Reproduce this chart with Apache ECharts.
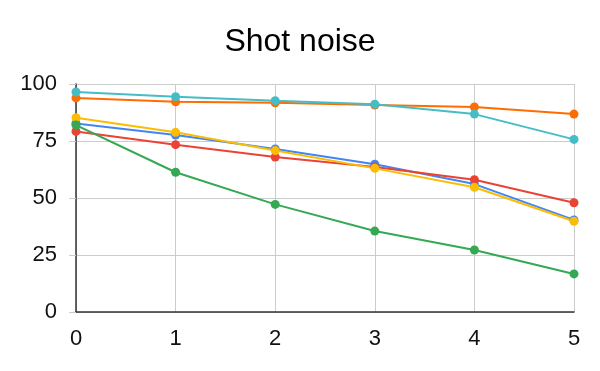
<!DOCTYPE html>
<html>
<head>
<meta charset="utf-8">
<script src="https://cdn.jsdelivr.net/npm/echarts@6/dist/echarts.min.js"></script>
<style>
  html, body { margin: 0; padding: 0; background: #fff; }
  #chart { width: 600px; height: 371px; }
</style>
</head>
<body>
<div id="chart"></div>
<script>
const xValues = [0, 1, 2, 3, 4, 5];
const seriesNames = ["A", "B", "C", "D", "E", "F"];
const blueData = [82.7, 77.6, 71.5, 64.8, 56.1, 40.4];
const redData = [79.2, 73.4, 68.0, 63.6, 58.0, 47.9];
const yellowData = [85.2, 78.8, 70.8, 63.0, 54.7, 39.8];
const greenData = [82.0, 61.3, 47.2, 35.5, 27.2, 16.7];
const orangeData = [93.9, 92.2, 91.8, 90.8, 89.9, 86.8];
const tealData = [96.5, 94.4, 92.7, 91.1, 86.8, 75.7];
const colors = ["#4285F4", "#EA4335", "#FBBC04", "#34A853", "#FF6D01", "#46BDC6"];

const chart = echarts.init(document.getElementById("chart"));
const allData = [blueData, redData, yellowData, greenData, orangeData, tealData];
const font = "'Liberation Sans', Arial, sans-serif";

const option = {
  animation: false,
  title: {
    text: "Shot noise",
    left: "center",
    top: 21,
    textStyle: { fontFamily: font, fontSize: 32, fontWeight: "normal", color: "#000" }
  },
  grid: { left: 76, right: 26, top: 84, bottom: 59 },
  xAxis: {
    type: "value",
    min: 0,
    max: 5,
    interval: 1,
    axisLine: { show: true, lineStyle: { color: "#333", width: 1.5 } },
    axisTick: { show: false },
    axisLabel: { fontFamily: font, fontSize: 22, color: "#111", margin: 16 },
    splitLine: { show: true, lineStyle: { color: "#ccc" } }
  },
  yAxis: {
    type: "value",
    min: 0,
    max: 100,
    interval: 25,
    axisLine: { show: true, lineStyle: { color: "#333", width: 1.5 } },
    axisTick: { show: true, length: 7, lineStyle: { color: "#ccc" } },
    axisLabel: { fontFamily: font, fontSize: 22, color: "#111", margin: 19 },
    splitLine: { show: true, lineStyle: { color: "#ccc" } }
  },
  series: allData.map((d, i) => ({
    name: seriesNames[i],
    type: "line",
    data: d.map((v, j) => [xValues[j], v]),
    symbol: "circle",
    symbolSize: 9,
    lineStyle: { width: 2, color: colors[i] },
    itemStyle: { color: colors[i] }
  }))
};

chart.setOption(option);
</script>
</body>
</html>
